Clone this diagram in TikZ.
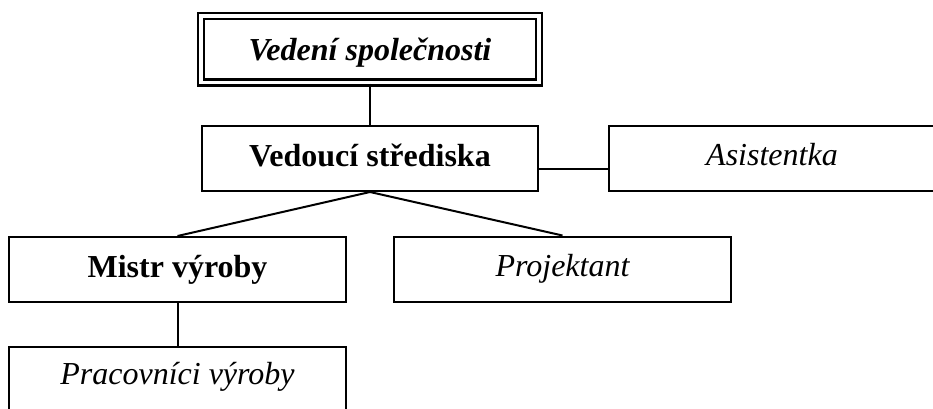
\documentclass[tikz,border=0pt]{standalone}
\usepackage{fontspec}
\setmainfont{Liberation Serif}
\begin{document}
\begin{tikzpicture}[x=1pt,y=-1pt,
  every node/.style={font=\fontsize{32}{38}\selectfont},
  orgbox/.style={draw, line width=2pt, rectangle, inner sep=0pt,
    minimum height=65pt, text height=22pt},
  boldbox/.style={orgbox, text depth=6pt, font=\fontsize{32}{38}\selectfont\bfseries},
  itbox/.style={orgbox, text depth=8pt, font=\fontsize{32}{38}\selectfont\itshape},
  headbox/.style={draw, double, line width=2.4pt, double distance=3.5pt,
    rectangle, inner sep=0pt, minimum width=338pt, minimum height=66.5pt,
    text height=22pt, text depth=0pt,
    font=\fontsize{32}{38}\selectfont\bfseries\itshape},
  link/.style={line width=2pt}]
\useasboundingbox (0,0) rectangle (933,408);
\clip (0,0) rectangle (933,408);

% boxes
\node[headbox] (head) at (370,49.25) {Vedení společnosti};
\node[boldbox, minimum width=336pt] (ved) at (370,158.5) {Vedoucí střediska};
\node[itbox, minimum width=326pt] (asi) at (772,158.5) {Asistentka};
\node[boldbox, minimum width=337pt] (mis) at (177.5,269.5) {Mistr výroby};
\node[itbox, minimum width=337pt] (pro) at (562.5,269) {Projektant};
\node[itbox, minimum width=337pt, text depth=12pt] (pra) at (177.5,379.5) {Pracovníci výroby};

% connectors
\draw[link] (head.south) -- (ved.north);
\draw[link] ([yshift=-10.5pt]ved.east) -- ([yshift=-10.5pt]asi.west);
\draw[link] (ved.south) -- (mis.north);
\draw[link] (ved.south) -- (pro.north);
\draw[link] (mis.south) -- (pra.north);
\end{tikzpicture}
\end{document}
